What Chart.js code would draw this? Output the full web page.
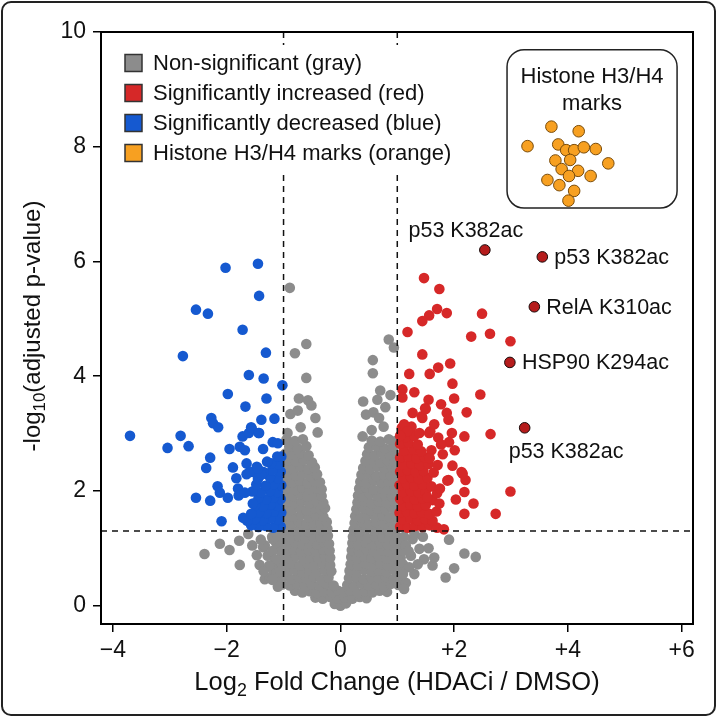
<!DOCTYPE html>
<html>
<head>
<meta charset="utf-8">
<title>Volcano plot - HDACi vs DMSO</title>
<script src="https://cdn.jsdelivr.net/npm/chart.js@4.4.1/dist/chart.umd.min.js"></script>
<style>
  html, body { margin: 0; padding: 0; background: #fff; }
  #wrap { width: 717px; height: 717px; }
</style>
</head>
<body>
<div id="wrap"><canvas id="volcano" width="717" height="717"></canvas></div>
<script>
// axis ticks
const xTicks = [-4, -2, 0, 2, 4, 6];
const xTickLabels = ['\u22124', '\u22122', '0', '+2', '+4', '+6'];
const yTicks = [0, 2, 4, 6, 8, 10];
const yTickLabels = ['0', '2', '4', '6', '8', '10'];

// thresholds
const foldCutoff = 1;
const pCutoff = 1.3;

// legend
const legendLabels = ['Non-significant (gray)', 'Significantly increased (red)', 'Significantly decreased (blue)', 'Histone H3/H4 marks (orange)'];
const legendColors = ['#8c8c8c', '#d62828', '#1559d0', '#f7a021'];

// dense non-significant cloud (log2FC, -log10 p)
const grayCore = [
  [-0.1,0.03],[0,0.0],[0.1,0.04],
  [-0.44,0.14],[-0.31,0.12],[-0.18,0.15],[-0.05,0.12],[0.08,0.14],[0.21,0.12],[0.34,0.15],[0.46,0.13],
  [-0.8,0.26],[-0.67,0.23],[-0.54,0.25],[-0.41,0.22],[-0.28,0.25],[-0.15,0.23],[-0.04,0.26],[0.06,0.24],[0.17,0.26],[0.3,0.22],[0.43,0.25],[0.56,0.23],[0.69,0.26],[0.82,0.24],
  [-1.02,0.37],[-0.89,0.35],[-0.76,0.38],[-0.63,0.34],[-0.5,0.37],[-0.37,0.35],[-0.24,0.38],[-0.12,0.35],[0.12,0.36],[0.24,0.34],[0.37,0.38],[0.5,0.35],[0.63,0.37],[0.76,0.34],[0.89,0.38],[1.02,0.36],
  [-1.12,0.47],[-0.99,0.5],[-0.86,0.46],[-0.73,0.49],[-0.6,0.47],[-0.47,0.5],[-0.34,0.46],[-0.21,0.49],[0.15,0.48],[0.28,0.5],[0.41,0.46],[0.54,0.49],[0.67,0.47],[0.8,0.5],[0.93,0.46],[1.06,0.49],
  [-1.06,0.61],[-0.93,0.59],[-0.8,0.62],[-0.67,0.58],[-0.54,0.61],[-0.41,0.59],[-0.28,0.62],[-0.16,0.6],[0.16,0.61],[0.29,0.58],[0.42,0.62],[0.55,0.59],[0.68,0.61],[0.81,0.58],[0.94,0.62],[1.08,0.6],
  [-1.1,0.73],[-0.97,0.71],[-0.84,0.74],[-0.71,0.7],[-0.58,0.73],[-0.45,0.71],[-0.32,0.74],[-0.18,0.71],[0.18,0.72],[0.31,0.7],[0.44,0.74],[0.57,0.71],[0.7,0.73],[0.83,0.7],[0.96,0.74],[1.1,0.72],
  [-1.04,0.85],[-0.91,0.83],[-0.78,0.86],[-0.65,0.82],[-0.52,0.85],[-0.39,0.83],[-0.27,0.86],[-0.18,0.84],[0.19,0.85],[0.29,0.82],[0.42,0.86],[0.55,0.83],[0.68,0.85],[0.81,0.82],[0.94,0.86],[1.06,0.84],
  [-1.08,0.97],[-0.95,0.95],[-0.82,0.98],[-0.69,0.94],[-0.56,0.97],[-0.43,0.95],[-0.3,0.98],[-0.19,0.96],[0.2,0.97],[0.33,0.94],[0.46,0.98],[0.59,0.95],[0.72,0.97],[0.85,0.94],[0.98,0.98],[1.1,0.96],
  [-1.06,1.09],[-0.93,1.07],[-0.8,1.1],[-0.67,1.06],[-0.54,1.09],[-0.41,1.07],[-0.29,1.1],[-0.2,1.08],[0.21,1.09],[0.31,1.06],[0.44,1.1],[0.57,1.07],[0.7,1.09],[0.83,1.06],[0.96,1.1],[1.06,1.08],
  [-1.0,1.21],[-0.87,1.19],[-0.74,1.22],[-0.61,1.18],[-0.48,1.21],[-0.35,1.19],[-0.22,1.22],[0.22,1.2],[0.35,1.22],[0.48,1.18],[0.61,1.21],[0.74,1.19],[0.87,1.22],[1.0,1.2],
  [-0.97,1.33],[-0.84,1.31],[-0.71,1.34],[-0.58,1.3],[-0.45,1.33],[-0.33,1.31],[-0.23,1.34],[0.23,1.32],[0.34,1.3],[0.46,1.34],[0.59,1.31],[0.72,1.33],[0.85,1.3],[0.97,1.34],
  [-0.99,1.45],[-0.86,1.43],[-0.73,1.46],[-0.6,1.42],[-0.47,1.45],[-0.35,1.43],[-0.24,1.46],[0.25,1.44],[0.37,1.46],[0.5,1.42],[0.63,1.45],[0.76,1.43],[0.89,1.46],[0.98,1.44],
  [-0.95,1.57],[-0.82,1.55],[-0.69,1.58],[-0.56,1.54],[-0.43,1.57],[-0.3,1.55],[0.26,1.56],[0.36,1.54],[0.48,1.58],[0.61,1.55],[0.74,1.57],[0.87,1.54],[0.97,1.58],
  [-0.98,1.69],[-0.85,1.67],[-0.72,1.7],[-0.59,1.66],[-0.46,1.69],[-0.35,1.67],[-0.27,1.7],[0.28,1.68],[0.4,1.7],[0.53,1.66],[0.66,1.69],[0.79,1.67],[0.92,1.7],
  [-0.94,1.81],[-0.81,1.79],[-0.68,1.82],[-0.55,1.78],[-0.42,1.81],[-0.3,1.79],[0.3,1.8],[0.42,1.82],[0.55,1.78],[0.68,1.81],[0.81,1.79],[0.94,1.82],
  [-0.97,1.93],[-0.84,1.91],[-0.71,1.94],[-0.58,1.9],[-0.45,1.93],[-0.33,1.91],[0.31,1.92],[0.4,1.9],[0.52,1.94],[0.65,1.91],[0.78,1.93],[0.91,1.9],[0.98,1.94],
  [-0.93,2.05],[-0.8,2.03],[-0.67,2.06],[-0.54,2.02],[-0.42,2.05],[-0.33,2.03],[0.33,2.04],[0.45,2.06],[0.58,2.02],[0.71,2.05],[0.84,2.03],[0.96,2.06],
  [-0.97,2.17],[-0.84,2.15],[-0.71,2.18],[-0.58,2.14],[-0.46,2.17],[-0.36,2.15],[0.35,2.16],[0.46,2.14],[0.59,2.18],[0.72,2.15],[0.85,2.17],[0.97,2.14],
  [-0.92,2.29],[-0.79,2.27],[-0.66,2.3],[-0.53,2.26],[-0.41,2.29],[0.37,2.28],[0.5,2.3],[0.63,2.26],[0.76,2.29],[0.89,2.27],
  [-0.96,2.41],[-0.83,2.39],[-0.7,2.42],[-0.57,2.38],[-0.45,2.41],[0.4,2.4],[0.52,2.38],[0.65,2.42],[0.78,2.39],[0.91,2.41],[0.98,2.38],
  [-0.91,2.53],[-0.78,2.51],[-0.65,2.54],[-0.5,2.5],[0.44,2.52],[0.57,2.54],[0.7,2.5],[0.83,2.53],[0.95,2.51],
  [-0.97,2.65],[-0.84,2.63],[-0.71,2.66],[-0.56,2.62],[0.47,2.64],[0.6,2.62],[0.73,2.66],[0.86,2.63],[0.97,2.65],
  [-0.9,2.77],[-0.76,2.75],[-0.6,2.78],[0.5,2.76],[0.64,2.78],[0.78,2.74],[0.92,2.77],
  [-0.95,2.89],[-0.8,2.87],[-0.66,2.9],[0.55,2.88],[0.7,2.86],[0.85,2.9],[0.97,2.87]
];

// scattered non-significant points
const grayScatter = [
  [-0.89,5.54],[-0.6,4.56],[-0.8,4.4],[-0.6,3.97],[-0.73,3.61],[-0.57,3.58],[-0.51,3.49],[-0.88,3.34],[-0.75,3.4],
  [-0.44,3.27],[-0.7,3.11],[-0.4,3.02],[-0.93,3.01],
  [0.85,4.64],[0.94,4.5],[0.57,4.28],[0.57,4.05],[0.70,3.75],[0.88,3.67],[0.40,3.56],[0.65,3.59],[0.79,3.46],
  [0.45,3.33],[0.58,3.37],[0.68,3.27],[0.55,3.06],[0.76,3.12],[0.39,2.95],
  [-2.39,0.9],[-2.12,1.08],[-1.95,0.97],[-1.77,0.71],[-1.78,1.13],[-1.62,1.25],[-1.47,0.88],[-1.42,0.71],[-1.33,0.46],
  [-1.25,0.49],[-1.1,0.33],[-1.36,1.02],[-1.28,0.87],[-1.19,0.64],[-1.13,1.1],[-1.07,0.78],[-1.13,0.55],[-1.33,1.05],
  [-1.19,1.16],[-1.2,1.2],[-1.1,1.22],[-1.2,0.95],[-1.15,0.8],[-1.25,0.7],[-1.05,0.6],[-1.2,0.45],[-1.35,0.6],[-1.4,1.15],[-1.55,1.05],
  [1.27,1.16],[1.39,0.99],[1.47,0.81],[1.62,0.7],[1.30,0.55],[1.15,0.4],[1.12,0.29],[1.65,0.84],[1.85,0.49],[2.0,0.65],
  [1.91,1.15],[2.18,0.91],[2.38,0.85],[1.24,0.87],[1.36,0.72],[1.21,0.67],[1.12,1.2],[1.15,1.05],[1.05,0.75],[1.1,0.55],
  [1.2,0.95],[1.3,1.25],[1.45,1.2],[1.55,1.0]
];

// significantly increased
const redCore = [
  [1.05,1.38],[1.18,1.36],[1.31,1.39],[1.44,1.37],[1.57,1.4],[1.7,1.36],
  [1.1,1.5],[1.23,1.52],[1.36,1.49],[1.49,1.51],[1.62,1.48],
  [1.04,1.62],[1.17,1.64],[1.3,1.61],[1.43,1.63],[1.56,1.6],[1.69,1.64],
  [1.1,1.74],[1.23,1.76],[1.36,1.73],[1.5,1.75],
  [1.05,1.86],[1.18,1.88],[1.31,1.85],[1.44,1.87],[1.62,1.84],
  [1.1,1.98],[1.24,2.0],[1.38,1.97],[1.5,1.99],[1.7,1.96],
  [1.04,2.1],[1.17,2.12],[1.3,2.09],[1.45,2.11],[1.6,2.08],
  [1.1,2.22],[1.24,2.24],[1.38,2.21],[1.53,2.23],
  [1.05,2.34],[1.18,2.36],[1.32,2.33],[1.46,2.35],[1.64,2.32],
  [1.1,2.46],[1.25,2.48],[1.4,2.45],[1.55,2.47],
  [1.05,2.58],[1.2,2.6],[1.34,2.57],[1.48,2.59],
  [1.12,2.7],[1.28,2.72],[1.42,2.69],[1.6,2.71],
  [1.05,2.82],[1.2,2.84],[1.36,2.81],
  [1.15,2.94],[1.3,2.96],
  [1.08,3.1],[1.25,3.12]
];
const redScatter = [
  [1.47,5.71],[1.74,5.52],[1.70,5.17],[1.56,5.06],[1.44,4.96],[1.87,5.10],[2.49,5.09],[1.18,4.77],[2.30,4.69],[2.63,4.74],
  [2.99,4.61],[1.44,4.38],[1.21,4.04],[1.57,4.04],[1.72,4.15],[1.93,4.22],[1.97,3.87],[1.09,3.77],[1.09,3.63],[1.30,3.72],
  [2.46,3.68],[1.55,3.59],[2.0,3.61],[1.77,3.51],[1.49,3.44],[2.22,3.37],[1.27,3.36],[1.87,3.36],[1.90,3.24],[1.44,3.27],
  [2.64,2.99],[2.18,2.95],[1.96,3.01],[1.58,3.04],[1.72,2.93],[1.91,2.85],[2.01,2.71],[1.80,2.64],[1.57,2.57],[1.97,2.44],
  [1.71,2.45],[2.13,2.33],[2.20,2.19],[1.90,2.19],[2.18,1.98],[2.03,1.85],[2.34,1.78],[2.99,1.99],[2.18,1.60],[2.73,1.60],
  [1.82,1.33],[1.74,1.78],[1.53,1.89],[1.65,3.16],[1.12,3.16],[1.18,3.04],[1.05,2.96],[1.39,3.01],[1.77,2.81],[2.15,2.30],
  [1.88,2.18],[1.75,2.04],[1.43,3.30],[1.50,3.43],[1.56,3.01]
];

// significantly decreased
const blueCore = [
  [-1.05,1.38],[-1.18,1.36],[-1.31,1.39],[-1.44,1.37],[-1.57,1.4],
  [-1.1,1.5],[-1.23,1.52],[-1.36,1.49],[-1.5,1.51],[-1.64,1.48],
  [-1.04,1.62],[-1.17,1.64],[-1.3,1.61],[-1.43,1.63],
  [-1.1,1.74],[-1.23,1.76],[-1.36,1.73],[-1.5,1.75],
  [-1.05,1.86],[-1.18,1.88],[-1.31,1.85],[-1.44,1.87],
  [-1.1,1.98],[-1.24,2.0],[-1.4,1.97],[-1.55,1.99],
  [-1.04,2.1],[-1.17,2.12],[-1.32,2.09],[-1.48,2.11],
  [-1.1,2.22],[-1.24,2.24],[-1.45,2.21],
  [-1.05,2.34],[-1.2,2.36],[-1.35,2.33],
  [-1.08,2.46],[-1.22,2.48],
  [-1.04,2.6]
];
const blueScatter = [
  [-3.70,2.96],[-3.04,2.75],[-2.81,2.96],[-2.67,2.78],[-2.77,4.35],[-2.54,5.16],[-2.33,5.09],[-2.02,5.89],[-1.45,5.96],[-1.43,5.40],
  [-1.72,4.81],[-1.31,4.41],[-1.61,4.02],[-1.35,3.96],[-1.02,3.84],[-1.98,3.69],[-1.30,3.61],[-1.67,3.47],[-1.39,3.24],[-1.16,3.26],
  [-2.27,3.27],[-2.24,3.18],[-2.15,3.11],[-1.56,3.09],[-1.72,2.95],[-1.61,3.01],[-1.43,3.01],[-1.19,2.85],[-1.10,2.83],[-1.95,2.73],
  [-1.77,2.77],[-1.68,2.71],[-1.36,2.73],[-2.29,2.58],[-2.36,2.40],[-1.89,2.41],[-1.65,2.48],[-1.47,2.42],[-1.29,2.51],[-1.11,2.60],
  [-1.83,2.22],[-1.65,2.29],[-1.54,2.33],[-1.39,2.28],[-2.16,2.08],[-2.12,1.97],[-1.98,1.88],[-1.80,2.04],[-1.79,1.92],[-1.68,1.97],
  [-2.54,1.88],[-2.29,1.83],[-2.09,1.47],[-1.71,1.53],[-1.54,1.78],[-1.57,1.60],[-1.57,3.11],[-1.44,3.01],[-1.60,2.33],[-1.45,2.39]
];

// histone H3/H4 marks (inset cluster)
const histonePoints = [
  [3.71,8.35],[4.19,8.27],[3.29,8.01],[3.83,8.04],[3.97,7.94],[4.11,7.94],[4.28,7.99],[4.49,7.96],[3.78,7.76],[4.04,7.77],
  [4.71,7.71],[3.89,7.61],[4.18,7.58],[4.02,7.49],[4.40,7.49],[3.64,7.42],[3.85,7.33],[4.11,7.23],[4.01,7.06]
];

// named hits
const hitNames = ['p53 K382ac', 'p53 K382ac', 'RelA K310ac', 'HSP90 K294ac', 'p53 K382ac'];
const hitPoints = [[2.54,6.2],[3.55,6.08],[3.41,5.21],[2.98,4.24],[3.24,3.1]];
const hitLabelSide = ['above', 'right', 'right', 'right', 'below'];

// inset frame, in data units
const insetBox = { x0: 2.93, x1: 5.92, y0: 6.93, y1: 9.69 };
const insetTitle = ['Histone H3/H4', 'marks'];

const FONT = "'Liberation Sans', Arial, Helvetica, sans-serif";
const toXY = arr => arr.map(p => ({ x: p[0], y: p[1] }));

function drawRich(ctx, parts, size) {
    const subSize = size * 0.7;
    let w = 0;
    parts.forEach(([t, sub]) => {
        ctx.font = `${sub ? subSize : size}px ${FONT}`;
        w += ctx.measureText(t).width;
    });
    let x = -w / 2;
    parts.forEach(([t, sub]) => {
        ctx.font = `${sub ? subSize : size}px ${FONT}`;
        ctx.fillText(t, x, sub ? size * 0.22 : 0);
        x += ctx.measureText(t).width;
    });
}

const volcanoDecor = {
    id: 'volcanoDecor',
    beforeDraw(chart) {
        const ctx = chart.ctx;
        ctx.save();
        ctx.fillStyle = '#fff';
        ctx.fillRect(0, 0, chart.width, chart.height);
        ctx.restore();
    },
    beforeDatasetsDraw(chart) {
        const { ctx, scales: { x, y } } = chart;
        const left = x.getPixelForValue(insetBox.x0), right = x.getPixelForValue(insetBox.x1);
        const top = y.getPixelForValue(insetBox.y1), bottom = y.getPixelForValue(insetBox.y0);
        ctx.save();
        ctx.beginPath();
        ctx.roundRect(left, top, right - left, bottom - top, 17);
        ctx.fillStyle = '#fff';
        ctx.fill();
        ctx.lineWidth = 1.5;
        ctx.strokeStyle = '#222';
        ctx.stroke();
        ctx.fillStyle = '#111';
        ctx.font = `22px ${FONT}`;
        ctx.textAlign = 'center';
        ctx.textBaseline = 'middle';
        insetTitle.forEach((t, i) => ctx.fillText(t, (left + right) / 2, top + 27 + i * 27));
        ctx.restore();
    },
    afterDatasetsDraw(chart) {
        const { ctx, chartArea: a, scales: { x, y } } = chart;
        ctx.save();
        // threshold lines
        ctx.strokeStyle = '#111';
        ctx.lineWidth = 1.5;
        ctx.setLineDash([6, 5]);
        [-foldCutoff, foldCutoff].forEach(v => {
            const px = x.getPixelForValue(v);
            ctx.beginPath();
            ctx.moveTo(px, a.top);
            ctx.lineTo(px, a.bottom);
            ctx.stroke();
        });
        const py = y.getPixelForValue(pCutoff);
        ctx.beginPath();
        ctx.moveTo(a.left, py);
        ctx.lineTo(a.right, py);
        ctx.stroke();
        ctx.setLineDash([]);

        // frame
        ctx.lineWidth = 2;
        ctx.strokeStyle = '#000';
        ctx.strokeRect(a.left, a.top, a.right - a.left, a.bottom - a.top);

        // legend
        ctx.fillStyle = '#fff';
        ctx.fillRect(a.left + 12, a.top + 13, 360, 126);
        ctx.font = `22px ${FONT}`;
        ctx.textAlign = 'left';
        ctx.textBaseline = 'middle';
        legendLabels.forEach((label, i) => {
            const cy = a.top + 31 + i * 30;
            ctx.fillStyle = legendColors[i];
            ctx.fillRect(a.left + 24, cy - 8.5, 17, 17);
            ctx.lineWidth = 1.5;
            ctx.strokeStyle = '#333';
            ctx.strokeRect(a.left + 24, cy - 8.5, 17, 17);
            ctx.fillStyle = '#111';
            ctx.fillText(label, a.left + 52, cy + 1);
        });

        // hit labels
        ctx.font = `21.5px ${FONT}`;
        hitPoints.forEach((p, i) => {
            const px = x.getPixelForValue(p[0]);
            const pyy = y.getPixelForValue(p[1]);
            const side = hitLabelSide[i];
            if (side === 'above') {
                ctx.textAlign = 'center';
                ctx.fillText(hitNames[i], px - 19, pyy - 19);
            } else if (side === 'below') {
                ctx.textAlign = 'left';
                ctx.fillText(hitNames[i], px - 16, pyy + 24);
            } else {
                ctx.textAlign = 'left';
                ctx.fillText(hitNames[i], px + 12, pyy + 1);
            }
        });
        ctx.restore();
    },
    afterDraw(chart) {
        const { ctx, chartArea: a } = chart;
        ctx.save();
        ctx.fillStyle = '#111';
        ctx.textAlign = 'left';
        ctx.textBaseline = 'alphabetic';
        // x title
        ctx.save();
        ctx.translate((a.left + a.right) / 2, 690);
        drawRich(ctx, [['Log', false], ['2', true], [' Fold Change (HDACi / DMSO)', false]], 25.5);
        ctx.restore();
        // y title
        ctx.save();
        ctx.translate(40, 326);
        ctx.rotate(-Math.PI / 2);
        drawRich(ctx, [['-log', false], ['10', true], ['(adjusted p-value)', false]], 24);
        ctx.restore();
        // outer border
        ctx.beginPath();
        ctx.roundRect(2, 2, chart.width - 4, chart.height - 4, 9);
        ctx.lineWidth = 2;
        ctx.strokeStyle = '#222';
        ctx.stroke();
        ctx.restore();
    }
};

const dot = (data, color, r, order, border) => ({
    data: toXY(data),
    backgroundColor: color,
    borderColor: border || color,
    borderWidth: border ? 1 : 0,
    pointRadius: r,
    pointHoverRadius: r,
    order: order
});

new Chart(document.getElementById('volcano'), {
    type: 'scatter',
    data: {
        datasets: [
            dot(grayCore, '#8c8c8c', 5.3, 9),
            dot(grayScatter, '#8c8c8c', 5.3, 8),
            dot(blueCore, '#1559d0', 5.3, 7),
            dot(blueScatter, '#1559d0', 5.3, 6),
            dot(redCore, '#d62828', 5.3, 5),
            dot(redScatter, '#d62828', 5.3, 4),
            dot(hitPoints, '#b51c1c', 5.3, 2, '#1a0a0a'),
            dot(histonePoints, '#f7a021', 5.8, 1, '#7a4c0a')
        ]
    },
    options: {
        responsive: false,
        devicePixelRatio: 1,
        animation: false,
        layout: { padding: { left: 0, top: 32, right: 24, bottom: 0 } },
        plugins: { legend: { display: false }, tooltip: { enabled: false } },
        scales: {
            x: {
                type: 'linear',
                min: -4.21,
                max: 6.2,
                afterBuildTicks: axis => { axis.ticks = xTicks.map(v => ({ value: v })); },
                afterFit: axis => { axis.height = 93; },
                ticks: {
                    color: '#111',
                    font: { family: FONT, size: 23 },
                    padding: 5,
                    maxRotation: 0,
                    callback: v => xTickLabels[xTicks.indexOf(v)]
                },
                grid: { drawOnChartArea: false, drawTicks: true, tickLength: 8, color: '#000', lineWidth: 1.5 },
                border: { display: false }
            },
            y: {
                type: 'linear',
                min: -0.32,
                max: 10,
                afterBuildTicks: axis => { axis.ticks = yTicks.map(v => ({ value: v })); },
                afterFit: axis => { axis.width = 101; },
                ticks: {
                    color: '#111',
                    font: { family: FONT, size: 23 },
                    padding: 7,
                    callback: v => yTickLabels[yTicks.indexOf(v)]
                },
                grid: { drawOnChartArea: false, drawTicks: true, tickLength: 8, color: '#000', lineWidth: 1.5 },
                border: { display: false }
            }
        }
    },
    plugins: [volcanoDecor]
});
</script>
</body>
</html>
